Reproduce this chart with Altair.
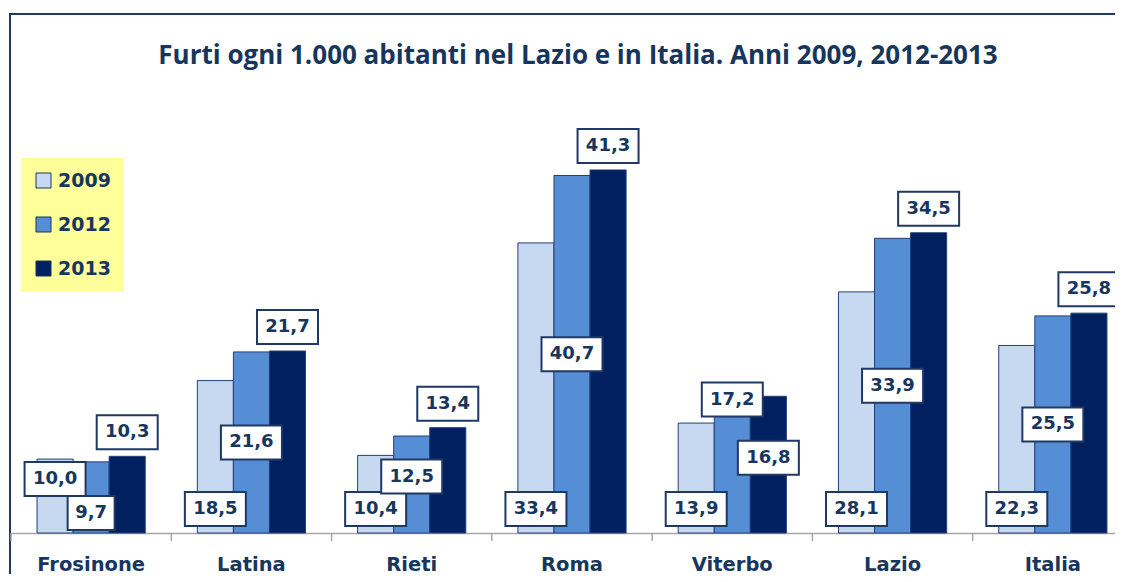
import altair as alt
import pandas as pd

categories = ["Frosinone", "Latina", "Rieti", "Roma", "Viterbo", "Lazio", "Italia"]
years = ["2009", "2012", "2013"]
values_2009 = [10.0, 18.5, 10.4, 33.4, 13.9, 28.1, 22.3]
values_2012 = [9.7, 21.6, 12.5, 40.7, 14.6, 33.9, 25.5]
values_2013 = [10.3, 21.7, 13.4, 41.3, 16.8, 34.5, 25.8]
labels_2009 = ["10,0", "18,5", "10,4", "33,4", "13,9", "28,1", "22,3"]
labels_2012 = ["9,7", "21,6", "12,5", "40,7", "17,2", "33,9", "25,5"]
labels_2013 = ["10,3", "21,7", "13,4", "41,3", "16,8", "34,5", "25,8"]
title_text = "Furti ogni 1.000 abitanti nel Lazio e in Italia. Anni 2009, 2012-2013"

# label placement per label (like Excel's label position), plus small manual nudges (px, up = +)
anchor_2009 = ["base", "base", "base", "base", "base", "base", "base"]
anchor_2012 = ["base", "center", "center", "center", "end", "center", "center"]
anchor_2013 = ["end", "end", "end", "end", "center", "end", "end"]
nudge_2009 = [30, 0, 0, 0, 0, 0, 0]
nudge_2012 = [-4, 0, 8, 0, -7, 0, 0]
nudge_2013 = [0, 0, 0, 0, 7, 0, 0]

bar_colors = ["#C6D9F1", "#558ED5", "#002060"]
NAVY = "#17365D"
OUTLINE = "#243F7A"

rows = []
for yr, vals, labs, anc, nud in [
    ("2009", values_2009, labels_2009, anchor_2009, nudge_2009),
    ("2012", values_2012, labels_2012, anchor_2012, nudge_2012),
    ("2013", values_2013, labels_2013, anchor_2013, nudge_2013),
]:
    for c, v, l, a, n in zip(categories, vals, labs, anc, nud):
        rows.append({"cat": c, "year": yr, "value": v, "label": l, "anchor": a, "nudge": n})
df = pd.DataFrame(rows)
cat_df = pd.DataFrame({"cat": categories})
one = pd.DataFrame({"t": [title_text]})

YMIN, YMAX = 2, 44
H = 388
W = 1104
PPU = H / (YMAX - YMIN)
STEP_RANGE = 1122
N = len(categories)
P_IN, P_OUT = 0.325, 0.1625
STEP = STEP_RANGE / N

xscale = alt.Scale(domain=categories, range=[0, STEP_RANGE], paddingInner=P_IN, paddingOuter=P_OUT)
xaxis = alt.Axis(
    title=None, domainColor="#A6A6A6", domainWidth=1.5, ticks=False,
    labelFont="DejaVu Sans", labelFontWeight="bold",
    labelFontSize=19.5, labelColor=NAVY, labelPadding=22, labelAngle=0, grid=False,
)
yscale = alt.Scale(domain=[YMIN, YMAX], nice=False, zero=False)

X = alt.X("cat:N", sort=categories, scale=xscale, axis=xaxis)
XO = alt.XOffset("year:N", sort=years, scale=alt.Scale(domain=years, paddingInner=0, paddingOuter=0))

base = alt.Chart(df)

frame = alt.Chart(one).mark_rect(
    fillOpacity=0, stroke="#1F3864", strokeWidth=2
).encode(x=alt.value(-1), x2=alt.value(1400), y=alt.value(-131), y2=alt.value(800))

title = alt.Chart(one).mark_text(
    font="Open Sans", fontSize=26, fontWeight="bold", color=NAVY, align="center", baseline="alphabetic"
).encode(x=alt.value(567), y=alt.value(-81), text="t:N")

# tick marks at the boundaries between categories (band start minus half the inner gap)
ticks = alt.Chart(cat_df).mark_rule(
    color="#A6A6A6", strokeWidth=1.5, xOffset=-(P_IN / 2) * STEP
).encode(
    x=alt.X("cat:N", sort=categories, scale=xscale, axis=xaxis, bandPosition=0),
    y=alt.value(H), y2=alt.value(H + 8),
)

bars = base.mark_bar(stroke=OUTLINE, strokeWidth=1).encode(
    x=X, xOffset=XO,
    y=alt.Y("value:Q", scale=yscale, axis=None),
    y2=alt.datum(YMIN),
    color=alt.Color(
        "year:N", sort=years, scale=alt.Scale(domain=years, range=bar_colors),
        legend=alt.Legend(
            title=None, orient="none", legendX=10, legendY=13, fillColor="#FFFF99",
            padding=13, symbolType="square", symbolSize=225, symbolStrokeColor=NAVY,
            symbolStrokeWidth=1, symbolOpacity=1, labelFont="DejaVu Sans",
            labelFontWeight="bold", labelFontSize=19, labelColor=NAVY, labelOffset=5,
            rowPadding=24, direction="vertical",
        ),
    ),
)

lab = base.transform_calculate(
    label_y=(
        f"(datum.anchor == 'base' ? {YMIN} + 24/{PPU} : "
        f"datum.anchor == 'center' ? (datum.value + {YMIN})/2 : datum.value + 24/{PPU})"
        f" + datum.nudge/{PPU}"
    ),
    n="length(datum.label)",
)

box_enc = dict(
    x=X, xOffset=XO,
    y=alt.Y("label_y:Q", scale=yscale, axis=None),
    y2="label_y:Q",
)
box_wide = lab.transform_filter("datum.n >= 4").mark_bar(
    width=61, fill="white", stroke="#1F3864", strokeWidth=2, yOffset=-17, y2Offset=17
).encode(**box_enc)
box_narrow = lab.transform_filter("datum.n < 4").mark_bar(
    width=47, fill="white", stroke="#1F3864", strokeWidth=2, yOffset=-17, y2Offset=17
).encode(**box_enc)

texts = lab.mark_text(
    font="DejaVu Sans", fontWeight="bold", fontSize=18, color=NAVY,
    baseline="middle", align="center",
).encode(
    x=X, xOffset=XO,
    y=alt.Y("label_y:Q", scale=yscale, axis=None),
    text="label:N",
)

chart = alt.layer(frame, title, ticks, bars, box_wide, box_narrow, texts).properties(
    width=W, height=H,
    background="white",
    autosize=alt.AutoSizeParams(type="none"),
    padding={"left": 3, "top": 137, "right": 0, "bottom": 41},
).configure_view(strokeWidth=0)

chart.save("out.html", embed_options={"renderer": "svg", "actions": False})
